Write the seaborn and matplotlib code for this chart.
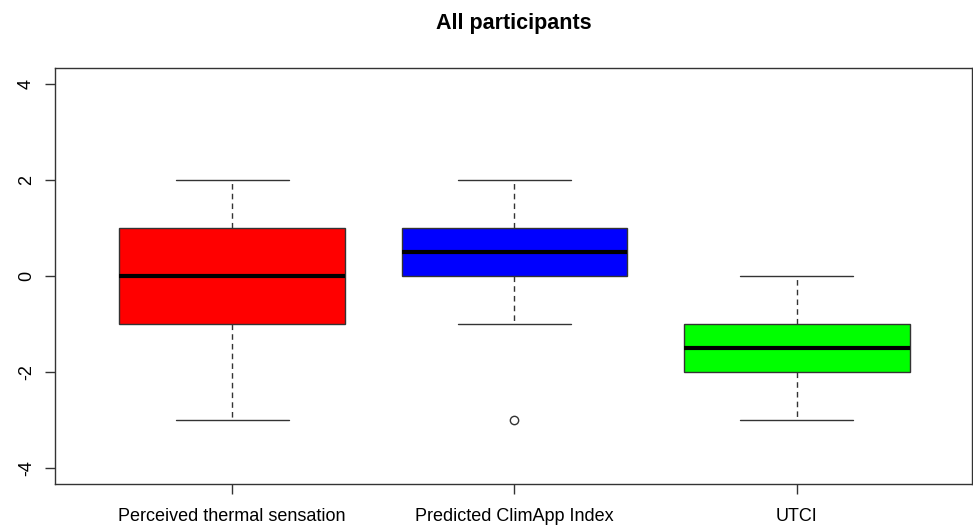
import pandas as pd
import matplotlib
matplotlib.use('Agg')
import matplotlib.pyplot as plt
import seaborn as sns

# Responses per measure (chosen so the box stats match the figure)
perceived = [-3, -1, -1, 0, 0, 1, 1, 2]
climapp = [-3, -1, 0, 0, 0, 1, 1, 1, 2, 2]
utci = [-3, -2, -2, -2, -1, -1, -1, 0]

labels = ['Perceived thermal sensation', 'Predicted ClimApp Index', 'UTCI']
colors = ['#ff0000', '#0000ff', '#00ff00']
yticks = [-4, -2, 0, 2, 4]

df = pd.DataFrame({
    'measure': [labels[0]] * len(perceived) + [labels[1]] * len(climapp) + [labels[2]] * len(utci),
    'value': perceived + climapp + utci,
})

sns.set_style('white')
plt.rcParams['font.family'] = ['Liberation Sans', 'DejaVu Sans']
plt.rcParams['text.color'] = 'black'
plt.rcParams['xtick.color'] = '#333333'
plt.rcParams['ytick.color'] = '#333333'
plt.rcParams['xtick.labelcolor'] = 'black'
plt.rcParams['ytick.labelcolor'] = 'black'

fig = plt.figure(figsize=(9.73, 5.27), dpi=100)
ax = fig.add_axes([0.0565, 0.0816, 0.9425, 0.7894])

sns.boxplot(data=df, x='measure', y='value', hue='measure', palette=colors,
            order=labels, hue_order=labels, dodge=False, legend=False,
            width=0.8, linecolor='#333333', linewidth=1, saturation=1,
            whis=1.5, ax=ax,
            medianprops=dict(color='black', linewidth=3),
            whiskerprops=dict(linestyle=(0, (4, 3)), color='#333333', linewidth=1),
            capprops=dict(color='#333333', linewidth=1),
            flierprops=dict(marker='o', markerfacecolor='none', markeredgecolor='#333333',
                            markersize=6, markeredgewidth=1))

ax.set_xlim(-0.627, 2.62)
ax.set_ylim(-4.33, 4.33)
ax.set_yticks(yticks)
ax.set_yticklabels([str(t) for t in yticks], rotation=90, va='center', fontsize=13)
ax.tick_params(axis='x', labelsize=13, length=7.5, width=1, pad=10, bottom=True)
ax.tick_params(axis='y', length=7.5, width=1, pad=7, left=True)
ax.set_xlabel('')
ax.set_ylabel('')
for s in ax.spines.values():
    s.set_visible(True)
    s.set_color('#333333')
    s.set_linewidth(1)

fig.text(0.5277, 0.945, 'All participants', fontsize=15.5, fontweight='bold',
         ha='center', va='baseline', color='black')

plt.savefig('out.png', dpi=100)
